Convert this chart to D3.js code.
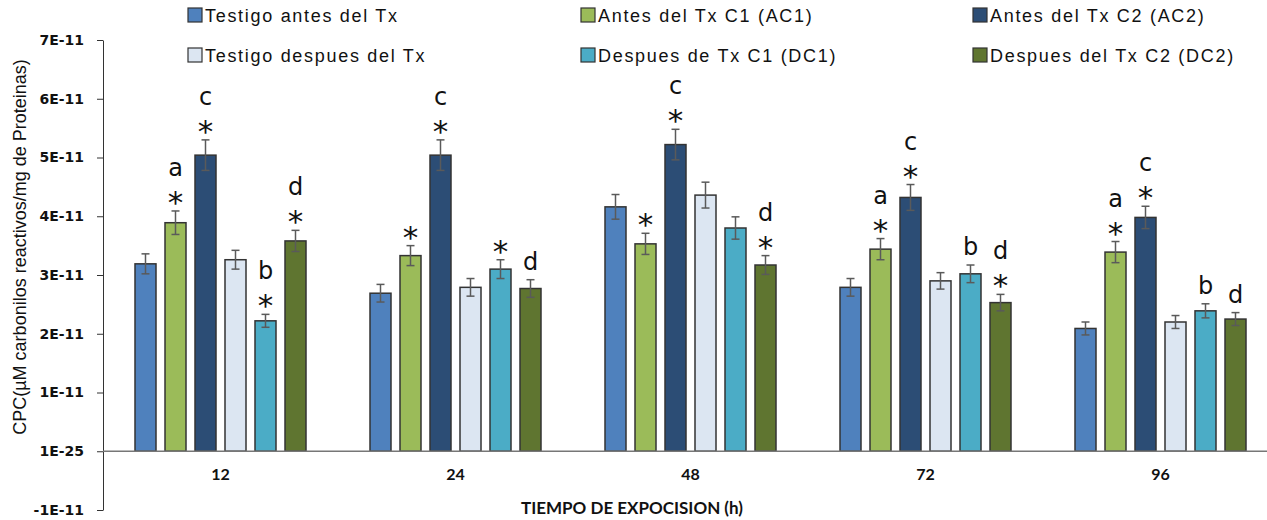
<!DOCTYPE html>
<html>
<head>
<meta charset="UTF-8" />
<script src="https://d3js.org/d3.v7.min.js"></script>
<title>CPC</title>
<style>
body { margin: 0; background: #fff; }
</style>
</head>
<body>
<script>

// categories (hours) and series
var categories = ["12", "24", "48", "72", "96"];
var seriesNames = ["Testigo antes del Tx", "Antes del Tx C1 (AC1)", "Antes del Tx C2 (AC2)",
                   "Testigo despues del Tx", "Despues de Tx C1 (DC1)", "Despues del Tx C2 (DC2)"];
var seriesColors = ["#4f81bd", "#9bbb59", "#2c4d75", "#dce6f2", "#4bacc6", "#5f7530"];

// values in units of 1E-11
var testigoAntes   = [3.19, 2.69, 4.16, 2.79, 2.09];
var antesC1        = [3.89, 3.33, 3.53, 3.44, 3.39];
var antesC2        = [5.04, 5.04, 5.22, 4.32, 3.98];
var testigoDespues = [3.26, 2.79, 4.36, 2.90, 2.20];
var despuesC1      = [2.22, 3.10, 3.80, 3.02, 2.39];
var despuesC2      = [3.58, 2.77, 3.17, 2.53, 2.25];

var errTestigoAntes   = [0.17, 0.15, 0.21, 0.15, 0.11];
var errAntesC1        = [0.20, 0.17, 0.18, 0.18, 0.18];
var errAntesC2        = [0.26, 0.26, 0.26, 0.22, 0.19];
var errTestigoDespues = [0.16, 0.15, 0.22, 0.14, 0.11];
var errDespuesC1      = [0.11, 0.16, 0.19, 0.15, 0.12];
var errDespuesC2      = [0.18, 0.15, 0.16, 0.14, 0.11];

// significance marks
var letters = [
  ["", "", "", "", ""],
  ["a", "", "", "a", "a"],
  ["c", "c", "c", "c", "c"],
  ["", "", "", "", ""],
  ["b", "", "", "b", "b"],
  ["d", "d", "d", "d", "d"]
];
var stars = [
  [0, 0, 0, 0, 0],
  [1, 1, 1, 1, 1],
  [1, 1, 1, 1, 1],
  [0, 0, 0, 0, 0],
  [1, 1, 0, 0, 0],
  [1, 0, 1, 1, 0]
];

var tickValues = [-1e-11, 0, 1e-11, 2e-11, 3e-11, 4e-11, 5e-11, 6e-11, 7e-11];
var tickLabels = ["-1E-11", "1E-25", "1E-11", "2E-11", "3E-11", "4E-11", "5E-11", "6E-11", "7E-11"];

var values = [testigoAntes, antesC1, antesC2, testigoDespues, despuesC1, despuesC2];
var errors = [errTestigoAntes, errAntesC1, errAntesC2, errTestigoDespues, errDespuesC1, errDespuesC2];

var width = 1267, height = 520;

var svg = d3.select("body").append("svg")
    .attr("width", width)
    .attr("height", height);

var x0 = d3.scaleBand().domain(categories).range([103, 1278]).padding(0);
var x1 = d3.scaleBand().domain(d3.range(6)).range([0, 180]).paddingInner(0.3).paddingOuter(0.15);
var y = d3.scaleLinear().domain([-1e-11, 7e-11]).range([510, 40]);

// rows of bar data
var rows = [];
values.forEach(function(vals, s) {
  vals.forEach(function(v, c) {
    rows.push({s: s, c: c, v: v * 1e-11, e: errors[s][c] * 1e-11,
               letter: letters[s][c], star: stars[s][c]});
  });
});

function barX(d) { return x0(categories[d.c]) + x0.bandwidth() / 2 - 90 + x1(d.s); }
function barMid(d) { return barX(d) + x1.bandwidth() / 2; }

// y axis
var yAxis = svg.append("g")
    .attr("transform", "translate(103,0)")
    .call(d3.axisLeft(y).tickValues(tickValues)
      .tickFormat(function(d, i) { return tickLabels[i]; })
      .tickSize(6).tickSizeOuter(0).tickPadding(13));
yAxis.select(".domain").attr("stroke", "#333");
yAxis.selectAll(".tick line").attr("stroke", "#333");
yAxis.selectAll("text")
    .attr("font-family", "DejaVu Sans")
    .attr("font-weight", "bold")
    .attr("font-size", 14)
    .attr("fill", "#111");

// bars
svg.append("g").selectAll("rect")
    .data(rows)
    .enter().append("rect")
    .attr("x", barX)
    .attr("width", x1.bandwidth())
    .attr("y", function(d) { return y(d.v); })
    .attr("height", function(d) { return y(0) - y(d.v); })
    .attr("fill", function(d) { return seriesColors[d.s]; })
    .attr("stroke", "#333")
    .attr("stroke-width", 1.5);

// baseline
svg.append("line")
    .attr("x1", 103).attr("x2", width)
    .attr("y1", y(0)).attr("y2", y(0))
    .attr("stroke", "#777").attr("stroke-width", 1.3);

// error bars
var eb = svg.append("g").attr("stroke", "#5a5a5a").attr("stroke-width", 1.5);
rows.forEach(function(d) {
  var cx = barMid(d);
  eb.append("line").attr("x1", cx).attr("x2", cx)
    .attr("y1", y(d.v + d.e)).attr("y2", y(d.v - d.e));
  eb.append("line").attr("x1", cx - 4).attr("x2", cx + 4)
    .attr("y1", y(d.v + d.e)).attr("y2", y(d.v + d.e));
  eb.append("line").attr("x1", cx - 4).attr("x2", cx + 4)
    .attr("y1", y(d.v - d.e)).attr("y2", y(d.v - d.e));
});

// marks above bars
var marks = svg.append("g")
    .attr("font-family", "DejaVu Sans")
    .attr("fill", "#111")
    .attr("text-anchor", "middle");
rows.forEach(function(d) {
  var cx = barMid(d);
  var top = y(d.v + d.e);
  var letterBase = top - 10;
  if (d.star) {
    var starCenter = top - 15;
    marks.append("text").attr("x", cx).attr("y", starCenter + 17)
      .attr("font-size", 31).text("*");
    letterBase = starCenter - 20;
  }
  if (d.letter) {
    marks.append("text").attr("x", cx).attr("y", letterBase)
      .attr("font-size", 24).text(d.letter);
  }
});

// x labels
svg.append("g").selectAll("text")
    .data(categories)
    .enter().append("text")
    .attr("x", function(d) { return x0(d) + x0.bandwidth() / 2; })
    .attr("y", 480)
    .attr("text-anchor", "middle")
    .attr("font-family", "Lato")
    .attr("font-weight", "bold")
    .attr("font-size", 16)
    .attr("fill", "#111")
    .text(function(d) { return d; });

svg.append("text")
    .attr("x", 632).attr("y", 514)
    .attr("text-anchor", "middle")
    .attr("font-family", "Lato")
    .attr("font-weight", "bold")
    .attr("font-size", 17)
    .attr("fill", "#111")
    .text("TIEMPO DE EXPOCISION (h)");

svg.append("text")
    .attr("transform", "translate(26,247) rotate(-90)")
    .attr("text-anchor", "middle")
    .attr("font-family", "Liberation Sans")
    .attr("font-size", 18)
    .attr("fill", "#111")
    .text("CPC(\u00b5M carbonilos reactivos/mg de Proteinas)");

// legend
var legX = [188, 581, 973], legY = [15, 55];
var leg = svg.append("g").selectAll("g")
    .data(seriesNames)
    .enter().append("g")
    .attr("transform", function(d, i) {
      return "translate(" + legX[i % 3] + "," + legY[Math.floor(i / 3)] + ")";
    });
leg.append("rect")
    .attr("x", 0).attr("y", -7)
    .attr("width", 14).attr("height", 14)
    .attr("fill", function(d, i) { return seriesColors[i]; })
    .attr("stroke", "#333").attr("stroke-width", 1.2);
leg.append("text")
    .attr("x", 17).attr("y", 6.5)
    .attr("font-family", "Liberation Sans")
    .attr("font-size", 18)
    .attr("letter-spacing", 1.7)
    .attr("fill", "#111")
    .text(function(d) { return d; });

</script>
</body>
</html>
